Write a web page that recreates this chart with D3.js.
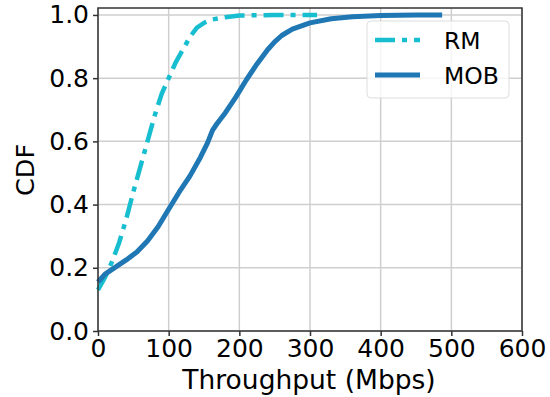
<!DOCTYPE html>
<html>
<head>
<meta charset="utf-8">
<script src="https://cdn.jsdelivr.net/npm/d3@7"></script>
<style>
  body { margin: 0; background: #fff; }
  text { font-family: "DejaVu Sans", sans-serif; fill: #000; }
</style>
</head>
<body>
<div id="chart"></div>
<script>
// data (Mbps, CDF)
var rmX  = [0, 10, 20, 30, 40, 50, 60, 70, 80, 90, 100, 110, 120, 130, 140, 150, 160, 180, 200, 250, 310];
var rmY  = [0.13, 0.17, 0.22, 0.28, 0.355, 0.44, 0.52, 0.60, 0.68, 0.75, 0.80, 0.85, 0.89, 0.93, 0.96, 0.975, 0.985, 0.993, 0.998, 1.0, 1.0];
var mobX = [0, 10, 20, 30, 40, 55, 70, 85, 100, 115, 130, 145, 155, 162, 168, 180, 195, 210, 225, 240, 250, 260, 275, 300, 330, 360, 400, 450, 487];
var mobY = [0.155, 0.18, 0.195, 0.21, 0.225, 0.25, 0.285, 0.33, 0.385, 0.44, 0.49, 0.55, 0.595, 0.635, 0.655, 0.69, 0.74, 0.795, 0.845, 0.89, 0.915, 0.935, 0.955, 0.975, 0.988, 0.994, 0.998, 1.0, 1.0];
var xTicks = [0, 100, 200, 300, 400, 500, 600];
var yTicks = [0.0, 0.2, 0.4, 0.6, 0.8, 1.0];
var seriesNames = ["RM", "MOB"];

var W = 550, H = 397;
var margin = {top: 8, right: 28, bottom: 66, left: 98};
var width = W - margin.left - margin.right,
    height = H - margin.top - margin.bottom;

var svg = d3.select("#chart").append("svg")
    .attr("width", W).attr("height", H)
  .append("g")
    .attr("transform", "translate(" + margin.left + "," + margin.top + ")");

var x = d3.scaleLinear().domain([0, 600]).range([0, width]);
var y = d3.scaleLinear().domain([0, 1.022]).range([height, 0]);

// grid
svg.append("g").selectAll("line.gx").data(xTicks).enter().append("line")
  .attr("x1", d => x(d)).attr("x2", d => x(d)).attr("y1", 0).attr("y2", height)
  .attr("stroke", "#cfcfcf").attr("stroke-width", 1.5);
svg.append("g").selectAll("line.gy").data(yTicks).enter().append("line")
  .attr("x1", 0).attr("x2", width).attr("y1", d => y(d)).attr("y2", d => y(d))
  .attr("stroke", "#cfcfcf").attr("stroke-width", 1.5);

// lines
var line = d3.line().x(d => x(d[0])).y(d => y(d[1]));
svg.append("path")
  .datum(d3.zip(rmX, rmY))
  .attr("d", line)
  .attr("fill", "none").attr("stroke", "#17becf").attr("stroke-width", 4.5)
  .attr("stroke-dasharray", "20,7,5,7");
svg.append("path")
  .datum(d3.zip(mobX, mobY))
  .attr("d", line)
  .attr("fill", "none").attr("stroke", "#1f77b4").attr("stroke-width", 5)
  .attr("stroke-linejoin", "round");

// frame
svg.append("rect").attr("width", width).attr("height", height)
  .attr("fill", "none").attr("stroke", "#333").attr("stroke-width", 1.5);

// axes
var xAxis = svg.append("g")
  .attr("transform", "translate(0," + height + ")")
  .call(d3.axisBottom(x).tickValues(xTicks).tickSize(5).tickPadding(3).tickFormat(d3.format("d")));
var yAxis = svg.append("g")
  .call(d3.axisLeft(y).tickValues(yTicks).tickSize(5).tickPadding(4).tickFormat(d3.format(".1f")));
[xAxis, yAxis].forEach(function(a) {
  a.select(".domain").remove();
  a.selectAll("line").attr("stroke", "#333").attr("stroke-width", 1.5);
  a.selectAll("text").style("font-size", "25px").attr("fill", "#000");
});

// axis labels
svg.append("text")
  .attr("x", (width / 2) - 1).attr("y", height + 58)
  .attr("text-anchor", "middle").style("font-size", "26.5px")
  .text("Throughput (Mbps)");
svg.append("text")
  .attr("transform", "rotate(-90)")
  .attr("x", -(170 - margin.top)).attr("y", -64)
  .attr("text-anchor", "middle").style("font-size", "25.5px")
  .text("CDF");

// legend
var lg = svg.append("g").attr("transform", "translate(" + (367 - margin.left) + "," + (21 - margin.top) + ")");
lg.append("rect").attr("width", 142).attr("height", 77).attr("rx", 4)
  .attr("fill", "#fff").attr("fill-opacity", 0.8)
  .attr("stroke", "#ddd").attr("stroke-width", 1);
var colors = ["#17becf", "#1f77b4"], dashes = ["20,7,5,7", null];
seriesNames.forEach(function(n, i) {
  var yy = 19 + i * 35;
  lg.append("line").attr("x1", 8).attr("x2", 53).attr("y1", yy).attr("y2", yy)
    .attr("stroke", colors[i]).attr("stroke-width", i ? 5 : 4.5)
    .attr("stroke-dasharray", dashes[i]);
  lg.append("text").attr("x", 77).attr("y", yy + 8.5)
    .style("font-size", "23.5px").text(n);
});
</script>
</body>
</html>
